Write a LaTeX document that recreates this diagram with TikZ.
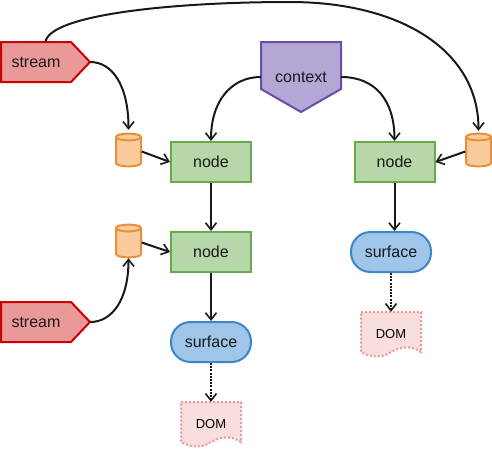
\documentclass[tikz,border=0pt]{standalone}
\usepackage{fontspec}
\setmainfont{Liberation Sans}
\usetikzlibrary{arrows.meta}
\tikzset{
  x=1pt,y=-1pt,
  lbl/.style={font=\fontsize{16}{18}\selectfont,text=black!90,inner sep=0pt},
  anchorbox/.style={draw=none,fill=none,inner sep=0pt,minimum width=#1},
  hbox/.style={minimum height=#1},
  greenbox/.style={draw=nodeS,fill=nodeF,line width=2pt,minimum width=80pt,minimum height=40pt,inner sep=0pt,lbl},
  surfbox/.style={draw=surfS,fill=surfF,line width=2pt,rounded corners=19.5pt,minimum width=80pt,minimum height=40pt,inner sep=0pt,lbl},
  streamshape/.style={draw=streamS,fill=streamF,line width=2pt,line join=miter},
  ctxshape/.style={draw=ctxS,fill=ctxF,line width=2pt},
  cylshape/.style={draw=cylS,fill=cylF,line width=2pt},
  domshape/.style={draw=domS,fill=domF,line width=2pt,dash pattern=on 2pt off 2pt},
  link/.style={draw=black!90,line width=2pt,-{Straight Barb[length=7pt,width=11pt,line width=1.6pt]}},
  dotlink/.style={link,dash pattern=on 2pt off 1.2pt},
}
\definecolor{nodeS}{HTML}{6AA84F}\definecolor{nodeF}{HTML}{B6D7A8}
\definecolor{surfS}{HTML}{3D85C6}\definecolor{surfF}{HTML}{9FC5E8}
\definecolor{streamS}{HTML}{CC0000}\definecolor{streamF}{HTML}{EA9999}
\definecolor{ctxS}{HTML}{674EA7}\definecolor{ctxF}{HTML}{B4A7D6}
\definecolor{cylS}{HTML}{E69138}\definecolor{cylF}{HTML}{F9CB9C}
\definecolor{domS}{HTML}{EA9999}\definecolor{domF}{HTML}{F9DEDE}
\newcommand{\streamshape}[1]{%
  \path[streamshape] (1,#1-20) -- (71,#1-20) -- (90,#1) -- (71,#1+20) -- (1,#1+20) -- cycle;}
\newcommand{\cylshape}[2]{%
  \path[cylshape] (#1-12.5,#2-13) .. controls (#1-12.5,#2-17.5) and (#1+12.5,#2-17.5) .. (#1+12.5,#2-13)
    -- (#1+12.5,#2+13) .. controls (#1+12.5,#2+17.5) and (#1-12.5,#2+17.5) .. (#1-12.5,#2+13) -- cycle;
  \path[draw=cylS,line width=2pt] (#1-12.5,#2-13) .. controls (#1-12.5,#2-8.5) and (#1+12.5,#2-8.5) .. (#1+12.5,#2-13);}
\newcommand{\domshape}[2]{%
  \path[domshape] (#1-30,#2-22) -- (#1+30,#2-22) -- (#1+30,#2+18)
    .. controls (#1+18,#2+10) and (#1+8,#2+14) .. (#1,#2+18)
    .. controls (#1-8,#2+24) and (#1-20,#2+24) .. (#1-30,#2+18) -- cycle;}
\begin{document}
\begin{tikzpicture}
\useasboundingbox (0,0) rectangle (492,448);
% shapes
\streamshape{62}
\streamshape{322}
\path[ctxshape] (261,42) -- (341,42) -- (341,89) -- (301,112) -- (261,89) -- cycle;
\cylshape{128.5}{150}
\cylshape{128.5}{241}
\cylshape{478.5}{150}
\domshape{211}{424}
\domshape{391}{334}
% named nodes
\node[anchorbox=89pt,hbox=40pt] (s1) at (45.5,62) {};
\node[anchorbox=89pt,hbox=40pt] (s2) at (45.5,322) {};
\node[lbl] (s1t) at (36,62.5) {stream};
\node[lbl] (s2t) at (36,322.5) {stream};
\node[anchorbox=80pt,hbox=70pt] (ctx) at (301,77) {};
\node[lbl] (ctxt) at (301,77.5) {context};
\node[anchorbox=26pt,hbox=34pt] (c1) at (128.5,150) {};
\node[anchorbox=26pt,hbox=34pt] (c2) at (128.5,241) {};
\node[anchorbox=26pt,hbox=34pt] (c3) at (478.5,150) {};
\node[greenbox] (n1) at (211,162) {node};
\node[greenbox] (n2) at (211,252) {node};
\node[greenbox] (n3) at (394.5,162) {node};
\node[surfbox] (f1) at (211,342) {surface};
\node[surfbox] (f2) at (391,252) {surface};
\node[anchorbox=60pt,hbox=44pt,font=\fontsize{13}{15}\selectfont] (d1) at (211,424) {DOM};
\node[anchorbox=60pt,hbox=44pt,font=\fontsize{13}{15}\selectfont] (d2) at (391,334) {DOM};
% connectors
\draw[link] (s1.east) .. controls (112,62) and (128.5,85) .. ([yshift=3pt]c1.north);
\draw[link] (s2.east) .. controls (112,322) and (128.5,300) .. (c2.south);
\draw[link] (s1.north) .. controls (50,15) and (170,2) .. (290,2)
   .. controls (400,2) and (478.5,50) .. ([yshift=2pt]c3.north);
\draw[link] (ctx.west) .. controls (232,77) and (211,100) .. (n1.north);
\draw[link] (ctx.east) .. controls (375,77) and (394.5,100) .. (n3.north);
\draw[link] ([yshift=-1.5pt]c1.east) -- (n1.west);
\draw[link] ([yshift=-1.5pt]c2.east) -- (n2.west);
\draw[link] ([yshift=-1.5pt]c3.west) -- (n3.east);
\draw[link] (n1) -- (n2);
\draw[link] (n2) -- (f1);
\draw[link] (n3.south) -- (n3.south |- f2.north);
\draw[dotlink] (f1) -- (d1.north);
\draw[dotlink] (f2) -- (d2.north);
\end{tikzpicture}
\end{document}
